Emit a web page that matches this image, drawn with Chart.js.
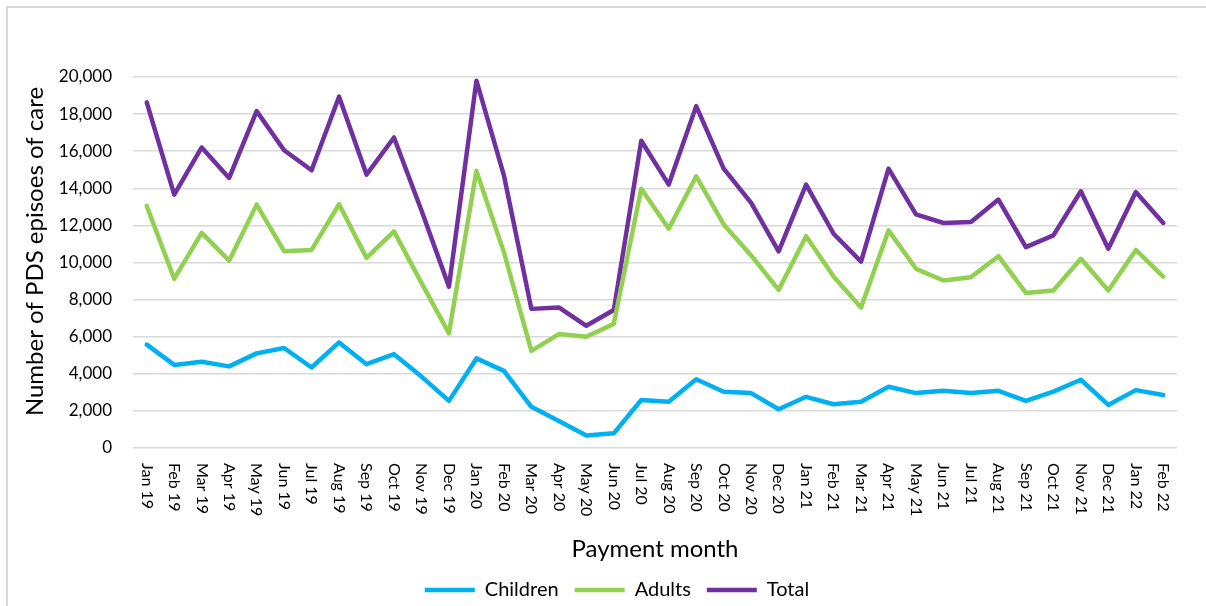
<!DOCTYPE html>
<html>
<head>
<meta charset="utf-8">
<script src="https://cdn.jsdelivr.net/npm/chart.js@4.4.1/dist/chart.umd.min.js"></script>
<style>
  html, body { margin: 0; padding: 0; background: #fff; overflow: hidden; }
  #frame { position: absolute; left: 6px; top: 6px; width: 1300px; height: 700px; border-left: 2px solid #d9d9d9; border-top: 2px solid #d9d9d9; }
  #wrap { position: absolute; left: 0; top: 0; width: 1206px; height: 606px; }
</style>
</head>
<body>
<div id="frame"></div>
<div id="wrap"><canvas id="chart"></canvas></div>
<script>
// months on the x axis
const months = ['Jan 19','Feb 19','Mar 19','Apr 19','May 19','Jun 19','Jul 19','Aug 19','Sep 19','Oct 19','Nov 19','Dec 19',
  'Jan 20','Feb 20','Mar 20','Apr 20','May 20','Jun 20','Jul 20','Aug 20','Sep 20','Oct 20','Nov 20','Dec 20',
  'Jan 21','Feb 21','Mar 21','Apr 21','May 21','Jun 21','Jul 21','Aug 21','Sep 21','Oct 21','Nov 21','Dec 21',
  'Jan 22','Feb 22'];
// episodes of care per month
const children = [5570,4480,4650,4400,5100,5390,4340,5690,4520,5060,3850,2540,
  4830,4160,2220,1460,680,790,2590,2490,3710,3030,2960,2090,
  2760,2360,2490,3300,2960,3080,2960,3080,2540,3040,3680,2320,
  3120,2860];
const adults = [13050,9120,11600,10100,13120,10610,10680,13140,10250,11680,8900,6180,
  14940,10560,5240,6140,6000,6690,13980,11820,14650,12050,10380,8520,
  11420,9240,7580,11730,9660,9030,9210,10340,8360,8490,10200,8490,
  10680,9240];
const total = [18630,13660,16200,14560,18160,16050,14970,18940,14740,16740,12800,8700,
  19800,14700,7500,7580,6590,7440,16560,14200,18430,15060,13210,10600,
  14200,11550,10050,15060,12590,12130,12180,13390,10830,11460,13840,10740,
  13800,12130];
// y axis ticks
const yMin = 0, yMax = 20000, yStep = 2000;
const yTitle = 'Number of PDS episoes of care';

Chart.defaults.font.family = 'Lato';
Chart.defaults.color = '#000';

//month labels turned clockwise and the y title, drawn by hand like the original
const axisText = {
  id: 'axisText',
  afterDraw(chart) {
    const ctx = chart.ctx;
    const x = chart.scales.x;
    const area = chart.chartArea;
    ctx.save();
    ctx.font = '16px Lato';
    ctx.fillStyle = '#000';
    ctx.textAlign = 'left';
    ctx.textBaseline = 'middle';
    months.forEach((m, i) => {
      ctx.save();
      ctx.translate(x.getPixelForValue(i), area.bottom + 15);
      ctx.rotate(Math.PI / 2);
      ctx.fillText(m, 0, 0);
      ctx.restore();
    });
    // y title sits a bit above the middle of the plot
    ctx.font = '24px Lato';
    ctx.textAlign = 'center';
    ctx.translate(35, (area.top + area.bottom) / 2 - 11);
    ctx.rotate(-Math.PI / 2);
    ctx.fillText(yTitle, 0, 0);
    ctx.restore();
  }
};

const line = (label, data, color) => ({
  label: label,
  data: data,
  borderColor: color,
  backgroundColor: color,
  borderWidth: 4.5,
  borderCapStyle: 'round',
  borderJoinStyle: 'round',
  pointRadius: 0,
  tension: 0,
});

new Chart(document.getElementById('chart'), {
  type: 'line',
  plugins: [axisText],
  data: {
    labels: months,
    datasets: [
      line('Children', children, '#00b0f0'),
      line('Adults', adults, '#92d050'),
      line('Total', total, '#7030a0'),
    ],
  },
  options: {
    responsive: true,
    maintainAspectRatio: false,
    animation: false,
    layout: { padding: { top: 77, right: 0, left: 28, bottom: -4 } },
    plugins: {
      tooltip: { enabled: false },
      legend: {
        position: 'bottom',
        labels: {
          usePointStyle: true,
          pointStyle: 'line',
          pointStyleWidth: 50,
          padding: 16,
          color: '#000',
          font: { size: 20 },
        },
      },
    },
    scales: {
      x: {
        offset: true,
        grid: { display: false },
        border: { display: false },
        ticks: { display: false },
        title: { display: true, text: 'Payment month', font: { size: 24 }, padding: { top: 0, bottom: 0.6 } },
        afterFit: (s) => { s.height = 116; },
      },
      y: {
        min: yMin,
        max: yMax,
        border: { display: false },
        grid: { color: '#d9d9d9', lineWidth: 1.5, drawTicks: false },
        ticks: {
          stepSize: yStep,
          padding: 21,
          font: { size: 17 },
          callback: (v) => v.toLocaleString('en-US'),
        },
        afterFit: (s) => { s.width = 105; },
      },
      // empty right axis, only keeps the gap right of the plot
      yRight: {
        position: 'right',
        grid: { display: false },
        border: { display: false },
        ticks: { display: false },
        afterFit: (s) => { s.width = 29; },
      },
    },
  },
});
</script>
</body>
</html>
